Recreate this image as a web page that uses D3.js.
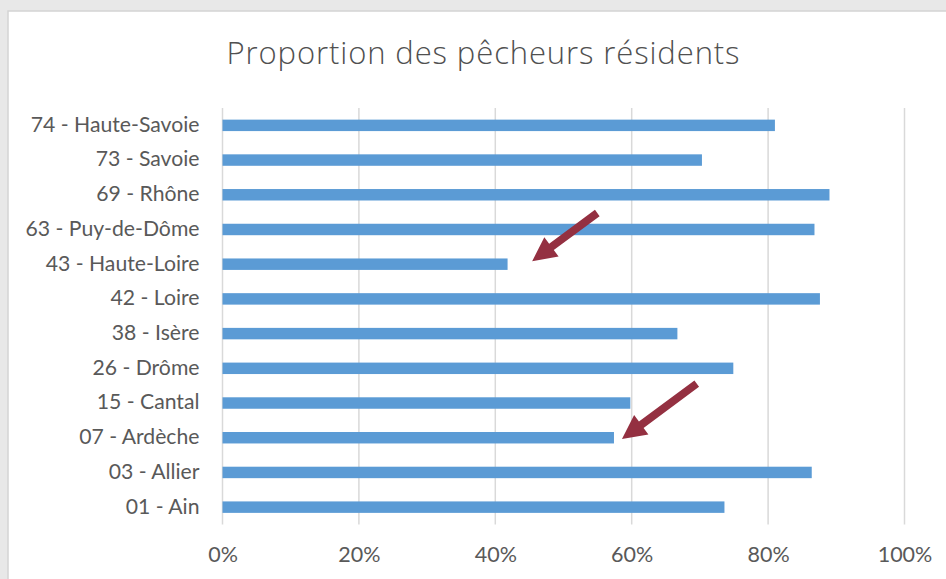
<!DOCTYPE html>
<html><head><meta charset="utf-8">
<script src="https://cdn.jsdelivr.net/npm/d3@7"></script>
<style>
html,body{margin:0;padding:0;background:#e9e9e9;}
svg{display:block;}
</style></head>
<body>
<svg id="chart" width="946" height="579"></svg>
<script>
// Data
const categories = ["74 - Haute-Savoie","73 - Savoie","69 - Rhône","63 - Puy-de-Dôme","43 - Haute-Loire","42 - Loire","38 - Isère","26 - Drôme","15 - Cantal","07 - Ardèche","03 - Allier","01 - Ain"];
const values = [0.81, 0.703, 0.89, 0.868, 0.418, 0.876, 0.667, 0.749, 0.598, 0.574, 0.864, 0.736];
const tickValues = [0, 0.2, 0.4, 0.6, 0.8, 1.0];
const tickLabels = ["0%","20%","40%","60%","80%","100%"];
const title = "Proportion des pêcheurs résidents";
// annotation arrows pointing at highlighted bars
const highlighted = ["43 - Haute-Loire","07 - Ardèche"];

const svg = d3.select("#chart");
const W = 946, H = 579;

// background and white card
svg.append("rect").attr("x",0).attr("y",0).attr("width",W).attr("height",H).attr("fill","#e8e8e8");
svg.append("rect").attr("x",8).attr("y",11).attr("width",W).attr("height",H).attr("fill","#ffffff")
  .attr("stroke","#d4d4d4").attr("stroke-width",1.5);

const plotTop = 108, plotBottom = 524.5;
const x = d3.scaleLinear().domain([0,1]).range([222.5, 904.5]);
const y = d3.scaleBand().domain(categories).range([plotTop, plotBottom]).paddingInner(0.67).paddingOuter(0.335);

// gridlines
svg.append("g").selectAll("line").data(tickValues).join("line")
  .attr("x1",d=>x(d)).attr("x2",d=>x(d))
  .attr("y1",plotTop).attr("y2",plotBottom)
  .attr("stroke","#d9d9d9").attr("stroke-width",1.5);

// bars
svg.append("g").selectAll("rect").data(values).join("rect")
  .attr("x",x(0))
  .attr("y",(d,i)=>y(categories[i]))
  .attr("width",d=>x(d)-x(0))
  .attr("height",y.bandwidth())
  .attr("fill","#5b9bd5");

const font = "Lato, 'Open Sans', sans-serif";
const textColor = "#595959";

// y axis labels
const yAxis = d3.axisLeft(y).tickSize(0).tickPadding(23);
const gy = svg.append("g").attr("transform",`translate(${x(0)},0)`).call(yAxis);
gy.select(".domain").remove();
gy.selectAll("text").attr("font-family",font).attr("font-size",21.2).attr("fill",textColor).attr("dy","0.3em");

// x axis labels
const xAxis = d3.axisBottom(x).tickValues(tickValues).tickFormat((d,i)=>tickLabels[i]).tickSize(0).tickPadding(0);
const gx = svg.append("g").attr("transform",`translate(0,547)`).call(xAxis);
gx.select(".domain").remove();
gx.selectAll("text").attr("font-family",font).attr("font-size",21.5).attr("fill",textColor);

// title (fit to reference width)
const t = svg.append("text").attr("x",483.5).attr("y",64).attr("text-anchor","middle")
  .attr("font-family","'Open Sans', Lato, sans-serif").attr("font-weight",300).attr("font-size",31)
  .attr("fill","#505050").text(title);
const tw = t.node().getComputedTextLength();
const targetW = 513;
t.attr("letter-spacing", ((targetW - tw)/(title.length-1)).toFixed(2)+"px");

// arrows
const arrowSpecs = [{dx:24.6, dy:-3, len:81}, {dx:8, dy:1.3, len:93}];
const arrowColor = "#943041";
highlighted.forEach((cat,k)=>{
  const i = categories.indexOf(cat);
  const s = arrowSpecs[k];
  const tipX = x(values[i]) + s.dx;
  const tipY = y(cat) + y.bandwidth()/2 + s.dy;
  const ang = Math.atan2(-0.74, 1);
  const ux = Math.cos(ang), uy = Math.sin(ang);
  const px = -uy, py = ux;
  const headLen = 24, headW = 12, shaftW = 3.9;
  const hb = [tipX+ux*headLen, tipY+uy*headLen];
  const tail = [tipX+ux*s.len, tipY+uy*s.len];
  const pts = [
    [tipX,tipY],
    [hb[0]+px*headW, hb[1]+py*headW],
    [hb[0]+px*shaftW, hb[1]+py*shaftW],
    [tail[0]+px*shaftW, tail[1]+py*shaftW],
    [tail[0]-px*shaftW, tail[1]-py*shaftW],
    [hb[0]-px*shaftW, hb[1]-py*shaftW],
    [hb[0]-px*headW, hb[1]-py*headW]
  ];
  svg.append("path").attr("d", d3.line()(pts)+"Z").attr("fill",arrowColor);
});
</script>
</body></html>
